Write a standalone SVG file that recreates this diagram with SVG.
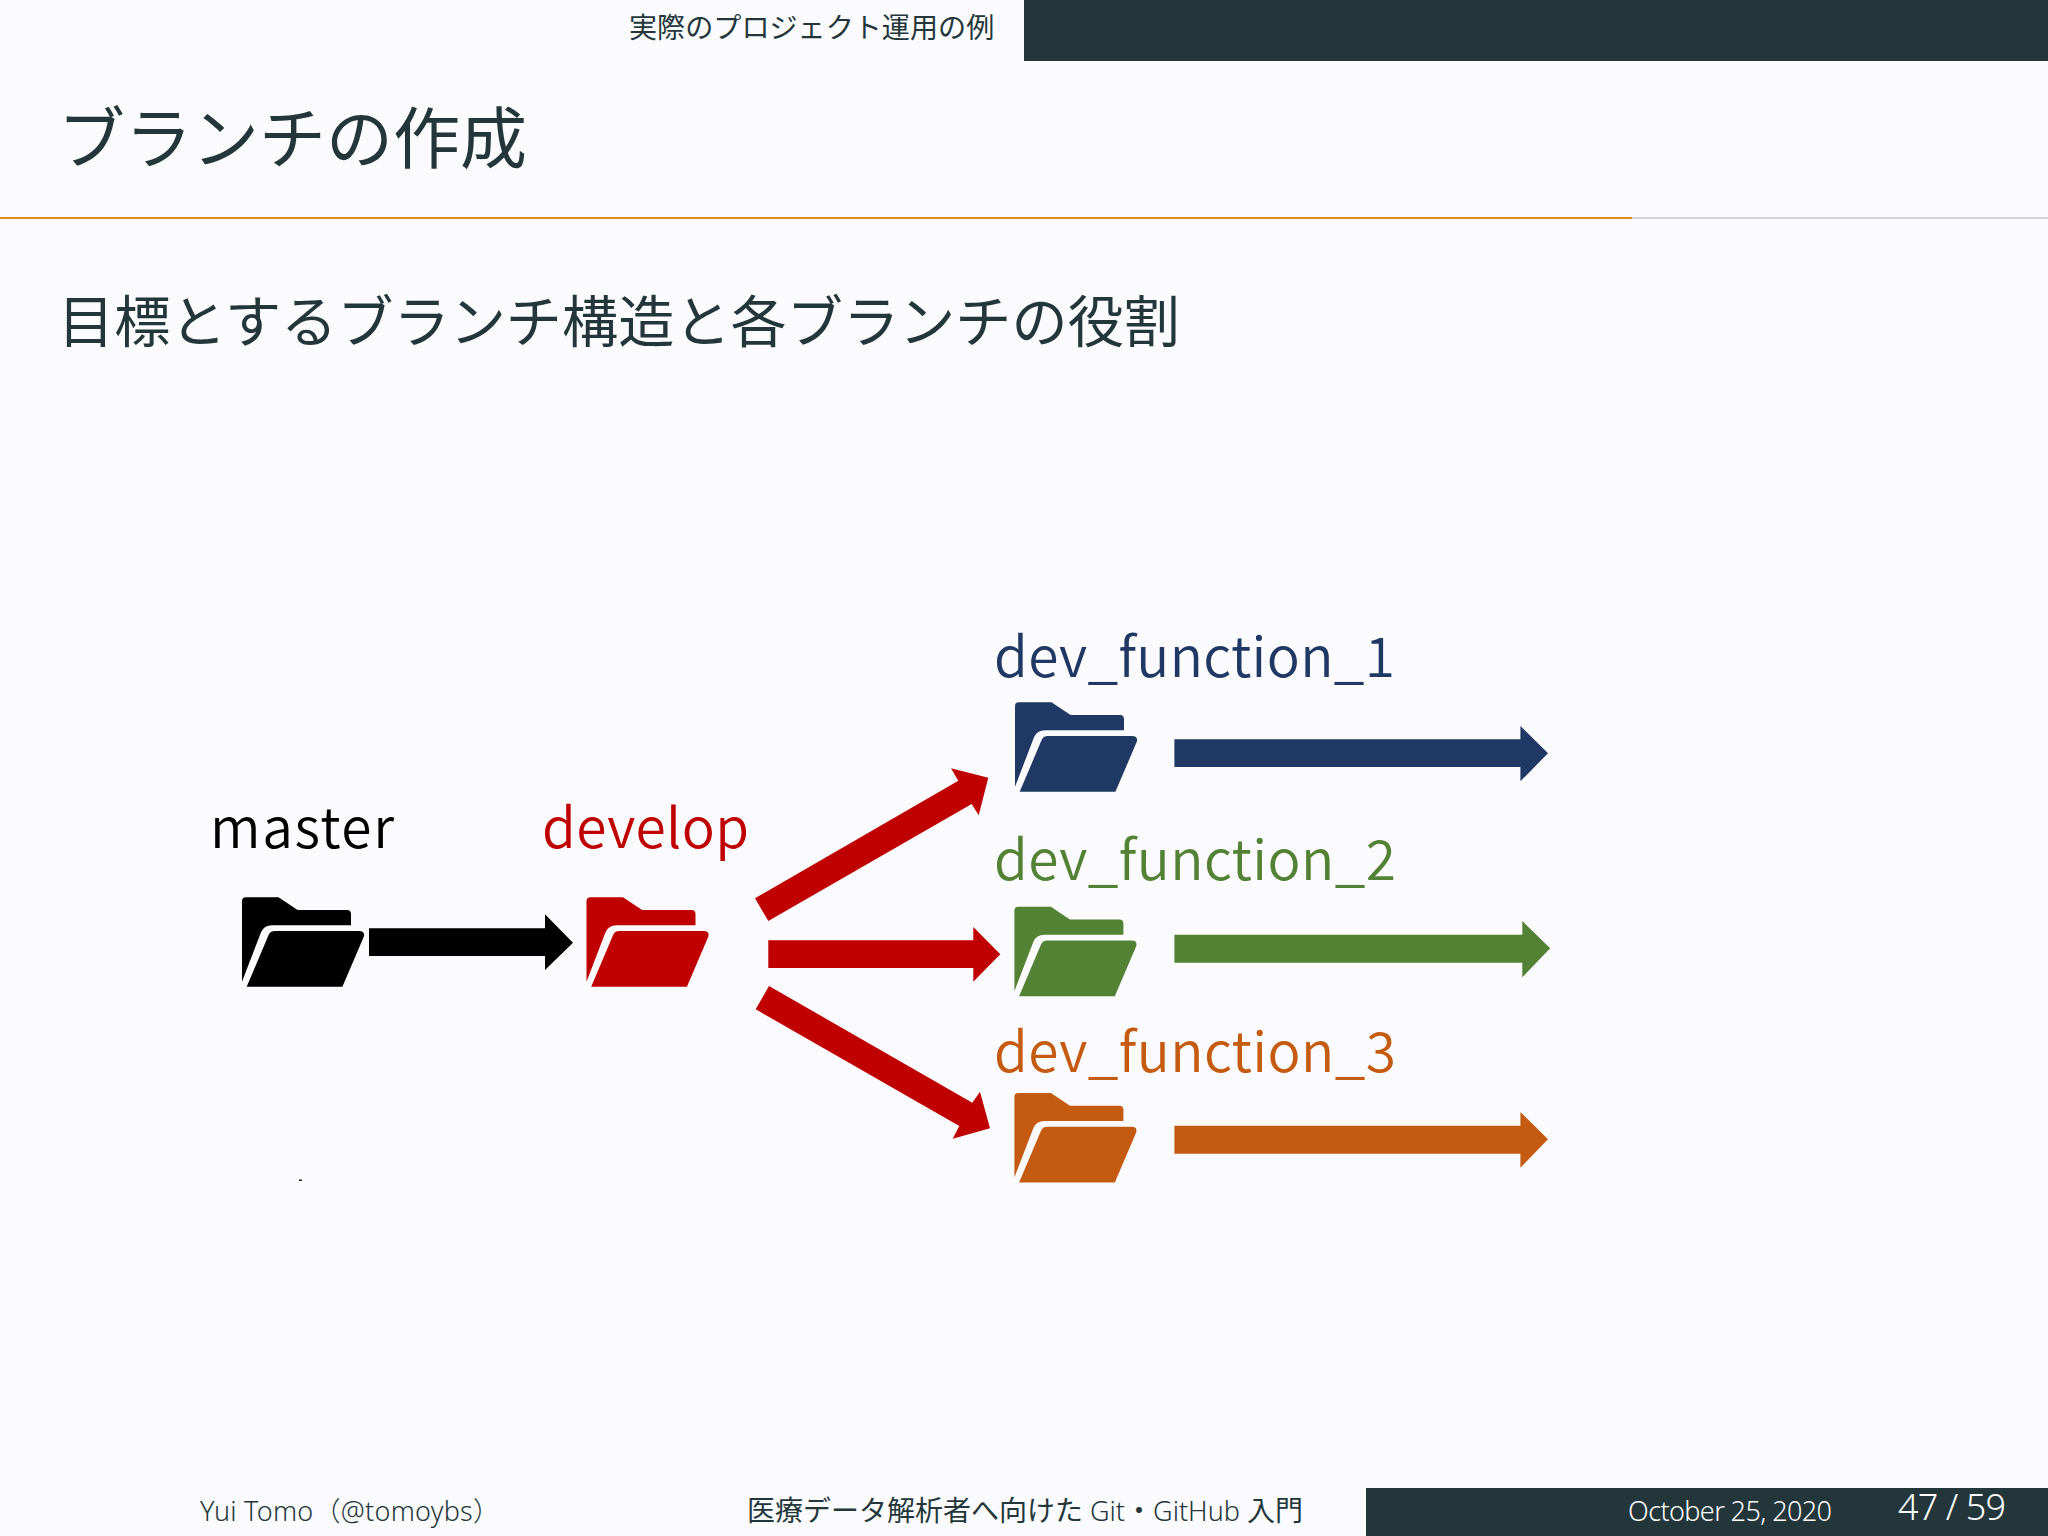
<svg xmlns="http://www.w3.org/2000/svg" width="2048" height="1536" viewBox="0 0 2048 1536">
<style>
.j{font-family:"Noto Sans CJK JP","Noto Sans",sans-serif;font-weight:400;fill:#23373b}
.l{font-family:"Noto Sans CJK JP","Noto Sans",sans-serif;font-weight:350;font-size:55px}
.f{font-family:"Noto Sans","Noto Sans CJK JP",sans-serif;font-weight:300;font-size:27px}
.f2{font-weight:300;font-family:"Noto Sans",sans-serif;font-size:27px}
</style>
<defs>
<g id="folder">
<path d="M0,4Q0,0 4,0H36.5L55.6,12.7H105Q109,12.7 109,17V28H30Q22,28 19,35L0,84.5Z"/>
<path d="M26.5,38Q28,33.7 33,33.7H117Q123,33.7 122,39L100.4,89.5H4.7Z"/>
</g>
</defs>
<rect width="2048" height="1536" fill="#fbfbfd"/>
<g id="header">
<rect x="1024" y="0" width="1024" height="61" fill="#23373b"/>
<text class="j" x="629" y="38" font-size="28.1">実際のプロジェクト運用の例</text>
<text class="j" x="58" y="163" font-size="67">ブランチの作成</text>
<rect x="0" y="217" width="1632" height="2" fill="#e08a25"/>
<rect x="1632" y="217" width="416" height="2" fill="#d6d6d6"/>
<text class="j" x="58" y="342" font-size="56.2">目標とするブランチ構造と各ブランチの役割</text>
</g>
<g id="connectors">
<path fill="#000" d="M369,928.3H545V914.3L573,942.7L545,970V956H369Z"/>
<path fill="#c00000" d="M755,898.3L958.3,780.7L951,768.3L988.3,777.7L978.7,815.3L971.7,804L768.3,921Z"/>
<path fill="#c00000" d="M768.3,940.3H973.3V927L1000.3,954.3L973.3,981.7V968H768.3Z"/>
<path fill="#c00000" d="M769,986L972.3,1102.7L980,1091.7L990,1128.3L952.7,1138.7L959.3,1126L755.7,1009.3Z"/>
<path fill="#1f3864" d="M1174.4,739.3H1520.4V726L1548,753.3L1520.4,781.3V767H1174.4Z"/>
<path fill="#548235" d="M1174.4,934.7H1522.3V921L1550.2,948.3L1522.3,977.3V962.7H1174.4Z"/>
<path fill="#c55a11" d="M1174.4,1125.7H1520.4V1112L1548,1139.3L1520.4,1167.7V1153.7H1174.4Z"/>
</g>
<g id="node-master"><use href="#folder" x="242" y="897.3" fill="#000"/><text class="l" x="210" y="848" fill="#000" textLength="184">master</text></g>
<g id="node-develop"><use href="#folder" x="586.5" y="897.3" fill="#c00000"/><text class="l" x="542" y="848" fill="#c00000" textLength="207">develop</text></g>
<g id="node-f1"><use href="#folder" x="1015" y="702.3" fill="#1f3864"/><text class="l" x="994" y="677" fill="#1f3864" textLength="401">dev_function_1</text></g>
<g id="node-f2"><use href="#folder" x="1014.4" y="906.7" fill="#548235"/><text class="l" x="994" y="880" fill="#548235" textLength="402">dev_function_2</text></g>
<g id="node-f3"><use href="#folder" x="1014.4" y="1093" fill="#c55a11"/><text class="l" x="994" y="1072" fill="#c55a11" textLength="402">dev_function_3</text></g>
<rect x="299" y="1179.5" width="3" height="1.5" fill="#222"/>
<g id="footer">
<rect x="1366" y="1488" width="682" height="48" fill="#23373b"/>
<text class="f" x="200" y="1521" fill="#23373b" textLength="300">Yui Tomo（@tomoybs）</text>
<text class="j" x="747" y="1521" font-size="28">医療データ解析者へ向けた<tspan class="f2"> Git</tspan>・<tspan class="f2">GitHub </tspan>入門</text>
<text class="f" x="1628" y="1521" fill="#fbfbfd" textLength="204">October 25, 2020</text>
<text x="1898" y="1520" fill="#fbfbfd" style="font-family:'Noto Sans',sans-serif;font-weight:300;font-size:36px" textLength="108">47 / 59</text>
</g>
</svg>
